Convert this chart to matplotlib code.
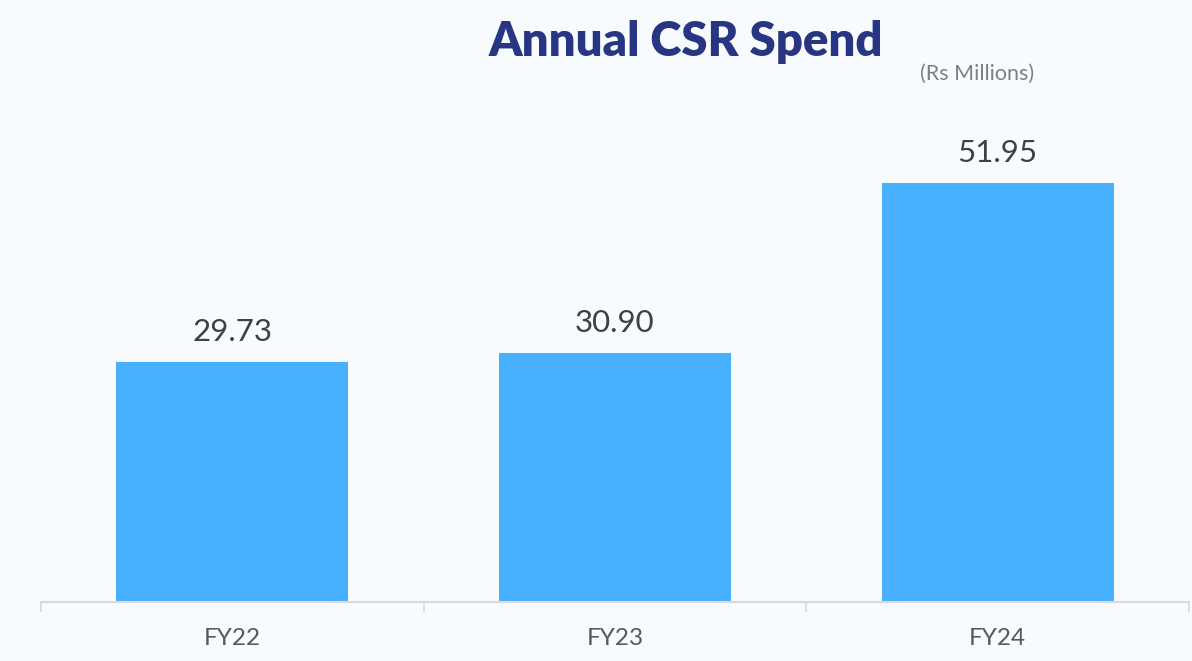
import matplotlib.pyplot as plt
import numpy as np

plt.rcParams['font.family'] = ['Lato', 'DejaVu Sans']

years = ["FY22", "FY23", "FY24"]
spend = [29.73, 30.90, 51.95]

bg = "#F7FBFE"
bar_color = "#47B0FF"

fig = plt.figure(figsize=(11.92, 6.61), dpi=100, facecolor=bg)
ax = fig.add_axes([0.0344, 0.0893, 0.9631, 0.7594], facecolor=bg)

x = np.arange(len(years))
bars = ax.bar(x, spend, width=0.607, color=bar_color, zorder=2)

for rect, val in zip(bars, spend):
    ax.annotate(f"{val:.2f}", (rect.get_x() + rect.get_width() / 2, rect.get_height()),
                xytext=(0, 21.5), textcoords="offset points", ha="center", va="center",
                fontsize=22.5, color="#404040")

ax.set_xlim(-0.5, len(years) - 0.5)
ax.set_ylim(0, 62.24)

# boundary ticks between categories, labels on the centres
ax.set_xticks(np.arange(-0.5, len(years)), labels=[])
ax.set_xticks(x, labels=years, minor=True)
ax.tick_params(axis="x", which="major", length=7, width=1.2, color="#D9D9D9")
ax.tick_params(axis="x", which="minor", length=0, pad=19, labelsize=17.5, labelcolor="#595959")
ax.set_yticks([])

for side in ["top", "right", "left"]:
    ax.spines[side].set_visible(False)
ax.spines["bottom"].set_color("#D9D9D9")
ax.spines["bottom"].set_linewidth(1.5)

fig.text(0.575, 0.937, "Annual CSR Spend", ha="center", va="center",
         fontsize=34, fontweight="heavy", color="#273582")
fig.text(0.82, 0.889, "(Rs Millions)", ha="center", va="center",
         fontsize=15.5, color="#7F7F7F")

fig.savefig("out.png", dpi=100, facecolor=bg)
